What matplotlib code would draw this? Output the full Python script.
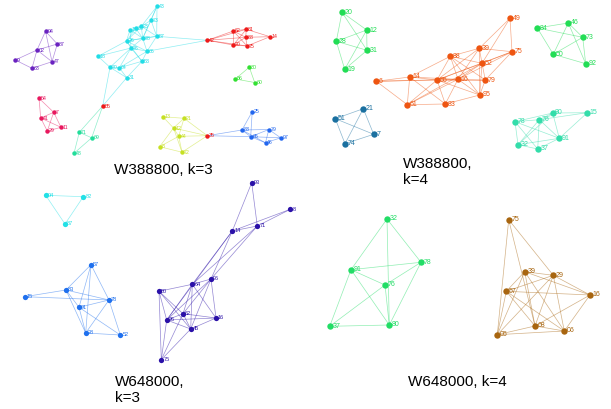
import matplotlib.pyplot as plt

plt.rcParams['font.family'] = ['Liberation Sans', 'DejaVu Sans']

colors = {
    'purple': '#6a22c0', 'cyan': '#22dde6', 'red': '#ee1a1a', 'teal': '#22dd9a',
    'pink': '#e8185e', 'lime': '#33e033', 'yellow': '#c6e022', 'blue': '#2266ee',
    'green': '#22dd55', 'orange': '#ee5511', 'steel': '#1a70a0', 'aqua': '#33ddaa',
    'sky': '#22e0e6', 'azure': '#1f70ee', 'indigo': '#2a10a8', 'mint': '#22dd66',
    'brown': '#a8650f',
}

# W388800, k=3
k3a_nodes = [
    ('94', 45.5, 32.3, 'purple'), ('87', 57.3, 45.0, 'purple'), ('02', 37.0, 51.0, 'purple'),
    ('9', 15.3, 61.0, 'purple'), ('47', 52.0, 62.7, 'purple'), ('63', 32.0, 69.3, 'purple'),
    ('43', 157.0, 7.3, 'cyan'), ('73', 151.0, 21.3, 'cyan'), ('23', 141.3, 27.3, 'cyan'),
    ('38', 135.7, 29.3, 'cyan'), ('19', 130.0, 30.7, 'cyan'), ('57', 156.7, 37.3, 'cyan'),
    ('78', 142.7, 39.3, 'cyan'), ('26', 126.5, 42.0, 'cyan'), ('76', 131.0, 49.0, 'cyan'),
    ('66', 147.0, 52.3, 'cyan'), ('18', 98.0, 57.3, 'cyan'), ('53', 142.0, 62.3, 'cyan'),
    ('70', 110.0, 68.3, 'cyan'), ('64', 119.3, 68.8, 'cyan'), ('31', 126.7, 78.7, 'cyan'),
    ('42', 207.3, 41.3, 'red'), ('62', 233.3, 32.0, 'red'), ('81', 246.3, 30.3, 'red'),
    ('88', 245.7, 38.3, 'red'), ('20', 233.3, 46.0, 'red'), ('75', 247.0, 47.0, 'red'),
    ('14', 270.0, 37.7, 'red'), ('55', 102.7, 107.0, 'red'), ('35', 207.3, 136.7, 'red'),
    ('71', 79.3, 133.3, 'teal'), ('69', 91.7, 138.8, 'teal'), ('48', 74.0, 154.3, 'teal'),
    ('54', 39.0, 99.3, 'pink'), ('7', 53.7, 113.3, 'pink'), ('41', 40.7, 119.0, 'pink'),
    ('11', 61.0, 128.3, 'pink'), ('29', 47.3, 132.0, 'pink'),
    ('30', 249.3, 68.2, 'lime'), ('86', 235.3, 80.0, 'lime'), ('60', 254.7, 83.5, 'lime'),
    ('13', 162.8, 117.7, 'yellow'), ('21', 184.0, 119.3, 'yellow'), ('12', 173.5, 129.0, 'yellow'),
    ('44', 178.7, 137.3, 'yellow'), ('8', 159.6, 147.7, 'yellow'), ('72', 182.0, 153.2, 'yellow'),
    ('25', 252.2, 112.7, 'blue'), ('83', 242.0, 131.0, 'blue'), ('79', 268.8, 130.5, 'blue'),
    ('65', 250.7, 137.7, 'blue'), ('97', 280.7, 138.8, 'blue'), ('46', 265.5, 143.8, 'blue'),
]
k3a_edges = [
    ('94', '87'), ('94', '02'), ('94', '47'), ('87', '02'), ('87', '47'), ('02', '9'),
    ('02', '47'), ('02', '63'), ('9', '63'), ('63', '47'),
    ('43', '73'), ('43', '23'), ('43', '78'), ('43', '57'), ('73', '23'), ('73', '57'),
    ('73', '78'), ('23', '38'), ('23', '57'), ('23', '78'), ('23', '26'), ('38', '19'),
    ('38', '78'), ('38', '26'), ('19', '26'), ('19', '78'), ('19', '76'), ('57', '78'),
    ('57', '66'), ('57', '26'), ('78', '26'), ('78', '76'), ('78', '66'), ('26', '76'),
    ('26', '66'), ('26', '53'), ('76', '66'), ('76', '18'), ('76', '53'), ('76', '70'),
    ('76', '64'), ('66', '53'), ('66', '64'), ('18', '26'), ('18', '70'), ('53', '64'),
    ('53', '31'), ('70', '64'), ('64', '31'), ('70', '31'), ('57', '42'), ('66', '42'),
    ('70', '55'), ('31', '55'),
    ('42', '62'), ('42', '81'), ('42', '88'), ('42', '20'), ('42', '75'), ('62', '81'),
    ('62', '88'), ('62', '20'), ('62', '75'), ('81', '88'), ('81', '14'), ('81', '20'),
    ('88', '20'), ('88', '75'), ('88', '14'), ('20', '75'), ('75', '14'),
    ('71', '55'), ('69', '55'), ('71', '69'), ('71', '48'), ('69', '48'),
    ('54', '7'), ('54', '41'), ('7', '41'), ('7', '11'), ('7', '29'), ('41', '11'),
    ('41', '29'), ('11', '29'),
    ('30', '86'), ('30', '60'), ('86', '60'),
    ('13', '21'), ('13', '12'), ('21', '12'), ('21', '44'), ('21', '35'), ('12', '44'),
    ('12', '8'), ('12', '72'), ('12', '35'), ('44', '8'), ('44', '72'), ('44', '35'),
    ('72', '35'), ('8', '72'),
    ('83', '35'), ('65', '35'), ('25', '83'), ('25', '65'), ('83', '65'), ('83', '79'),
    ('83', '46'), ('65', '79'), ('65', '97'), ('65', '46'), ('79', '97'), ('79', '46'),
    ('97', '46'),
]

# W388800, k=4
k4a_nodes = [
    ('20', 342.0, 13.3, 'green'), ('12', 366.7, 31.0, 'green'), ('28', 336.3, 42.3, 'green'),
    ('31', 367.0, 51.3, 'green'), ('19', 344.7, 70.3, 'green'),
    ('49', 510.0, 19.3, 'orange'), ('39', 479.3, 49.3, 'orange'), ('75', 512.0, 52.7, 'orange'),
    ('88', 450.3, 57.3, 'orange'), ('52', 482.0, 64.3, 'orange'), ('6', 376.3, 82.3, 'orange'),
    ('14', 409.7, 78.0, 'orange'), ('55', 437.0, 81.0, 'orange'), ('16', 458.0, 80.3, 'orange'),
    ('79', 485.3, 81.0, 'orange'), ('95', 479.7, 96.0, 'orange'), ('61', 407.3, 105.7, 'orange'),
    ('83', 445.3, 105.0, 'orange'),
    ('84', 537.3, 29.0, 'green'), ('46', 568.3, 24.0, 'green'), ('73', 582.7, 38.3, 'green'),
    ('50', 553.3, 55.3, 'green'), ('92', 585.7, 64.7, 'green'),
    ('21', 363.3, 109.7, 'steel'), ('51', 335.3, 119.7, 'steel'), ('7', 373.7, 135.3, 'steel'),
    ('74', 345.0, 144.7, 'steel'),
    ('78', 515.0, 122.7, 'aqua'), ('76', 539.3, 120.7, 'aqua'), ('80', 552.7, 114.0, 'aqua'),
    ('15', 587.3, 113.7, 'aqua'), ('91', 559.3, 139.3, 'aqua'), ('32', 518.0, 145.7, 'aqua'),
    ('37', 537.7, 150.0, 'aqua'),
]
k4a_edges = [
    ('20', '12'), ('20', '28'), ('20', '31'), ('12', '28'), ('12', '31'), ('12', '19'),
    ('28', '31'), ('28', '19'), ('31', '19'),
    ('49', '39'), ('49', '75'), ('49', '52'), ('39', '88'), ('39', '52'), ('39', '75'),
    ('39', '16'), ('39', '55'), ('39', '95'), ('75', '52'), ('75', '16'), ('75', '79'),
    ('75', '55'), ('88', '14'), ('88', '55'), ('88', '16'), ('88', '52'), ('88', '79'),
    ('88', '95'), ('52', '55'), ('52', '16'), ('52', '79'), ('52', '95'), ('52', '61'),
    ('6', '14'), ('6', '55'), ('6', '16'), ('6', '61'), ('14', '55'), ('14', '61'),
    ('14', '83'), ('14', '16'), ('55', '16'), ('55', '83'), ('55', '61'), ('55', '95'),
    ('55', '79'), ('16', '79'), ('16', '95'), ('16', '83'), ('16', '61'), ('79', '95'),
    ('61', '83'), ('83', '95'),
    ('84', '46'), ('84', '73'), ('84', '50'), ('46', '73'), ('46', '50'), ('46', '92'),
    ('73', '50'), ('73', '92'), ('50', '92'),
    ('21', '51'), ('21', '7'), ('21', '74'), ('51', '7'), ('51', '74'), ('74', '7'),
    ('78', '76'), ('78', '80'), ('78', '91'), ('78', '32'), ('78', '37'), ('76', '80'),
    ('76', '91'), ('76', '32'), ('76', '37'), ('80', '15'), ('80', '91'), ('80', '32'),
    ('15', '91'), ('15', '76'), ('91', '37'), ('91', '32'), ('32', '37'),
]

# W648000, k=3
k3b_nodes = [
    ('04', 45.7, 196.3, 'sky'), ('82', 83.3, 197.7, 'sky'), ('87', 65.0, 225.0, 'sky'),
    ('57', 91.0, 265.7, 'azure'), ('83', 66.0, 291.0, 'azure'), ('15', 24.7, 297.7, 'azure'),
    ('78', 109.0, 301.0, 'azure'), ('91', 79.0, 308.3, 'azure'), ('28', 85.7, 334.0, 'azure'),
    ('52', 120.3, 336.0, 'azure'),
    ('93', 251.7, 183.7, 'indigo'), ('8', 290.3, 210.3, 'indigo'), ('14', 232.3, 232.0, 'indigo'),
    ('71', 257.3, 227.0, 'indigo'), ('96', 211.0, 280.0, 'indigo'), ('64', 192.3, 285.3, 'indigo'),
    ('50', 159.0, 292.3, 'indigo'), ('62', 183.0, 314.7, 'indigo'), ('16', 216.0, 319.0, 'indigo'),
    ('26', 166.7, 321.0, 'indigo'), ('45', 190.7, 330.0, 'indigo'), ('75', 161.3, 360.7, 'indigo'),
]
k3b_edges = [
    ('04', '82'), ('04', '87'), ('82', '87'),
    ('57', '83'), ('57', '91'), ('57', '78'), ('57', '28'), ('83', '15'), ('83', '78'),
    ('83', '91'), ('83', '28'), ('15', '78'), ('91', '78'), ('91', '28'), ('91', '52'),
    ('78', '28'), ('78', '52'), ('28', '52'),
    ('93', '14'), ('93', '71'), ('8', '14'), ('8', '71'), ('14', '71'), ('14', '96'),
    ('14', '64'), ('14', '26'), ('71', '96'), ('71', '64'), ('96', '64'), ('96', '16'),
    ('96', '62'), ('96', '26'), ('96', '45'), ('64', '50'), ('64', '62'), ('64', '26'),
    ('64', '45'), ('64', '16'), ('50', '62'), ('50', '26'), ('50', '45'), ('50', '75'),
    ('62', '16'), ('62', '26'), ('62', '45'), ('26', '16'), ('26', '45'), ('26', '75'),
    ('45', '16'), ('45', '75'), ('62', '75'),
]

# W648000, k=4
k4b_nodes = [
    ('32', 387.0, 220.0, 'mint'), ('78', 421.0, 263.3, 'mint'), ('91', 351.0, 270.7, 'mint'),
    ('76', 385.0, 286.0, 'mint'), ('37', 329.7, 327.3, 'mint'), ('80', 389.3, 326.0, 'mint'),
    ('75', 508.7, 220.7, 'brown'), ('39', 524.7, 272.7, 'brown'), ('29', 553.3, 276.3, 'brown'),
    ('57', 506.3, 292.3, 'brown'), ('16', 590.0, 296.0, 'brown'), ('68', 535.0, 327.0, 'brown'),
    ('06', 564.3, 332.0, 'brown'), ('05', 497.3, 335.7, 'brown'),
]
k4b_edges = [
    ('32', '78'), ('32', '91'), ('32', '80'), ('91', '78'), ('91', '76'), ('91', '37'),
    ('91', '80'), ('78', '76'), ('78', '80'), ('76', '37'), ('76', '80'), ('37', '80'),
    ('75', '05'), ('75', '68'), ('75', '29'), ('39', '29'), ('39', '57'), ('39', '16'),
    ('39', '68'), ('39', '06'), ('39', '05'), ('29', '57'), ('29', '16'), ('29', '68'),
    ('29', '06'), ('29', '05'), ('57', '16'), ('57', '68'), ('57', '06'), ('57', '05'),
    ('16', '68'), ('16', '06'), ('68', '06'), ('68', '05'), ('05', '06'),
]

# (nodes, edges, marker size, label size)
panels = [
    (k3a_nodes, k3a_edges, 3.2, 3.8),
    (k4a_nodes, k4a_edges, 4.6, 5.0),
    (k3b_nodes, k3b_edges, 3.8, 4.0),
    (k4b_nodes, k4b_edges, 4.6, 5.0),
]

fig = plt.figure(figsize=(6.11, 4.10), dpi=100)
ax = fig.add_axes([0, 0, 1, 1])
ax.set_xlim(0, 611)
ax.set_ylim(410, 0)
ax.axis('off')

for nodes, edges, size, fsize in panels:
    pos = {lab: (x, y) for lab, x, y, g in nodes}
    grp = {lab: g for lab, x, y, g in nodes}
    # edge takes the colour of its first node
    for a, b in edges:
        ax.plot([pos[a][0], pos[b][0]], [pos[a][1], pos[b][1]],
                color=colors[grp[a]], lw=0.5, alpha=0.5, zorder=1)
    for lab, x, y, g in nodes:
        ax.plot(x, y, 'o', ms=size, color=colors[g], mec='none', zorder=2)
        ax.text(x + size * 0.55, y - 1, lab, fontsize=fsize, color=colors[g],
                ha='left', va='center', zorder=3)

ax.text(163, 170, 'W388800, k=3', fontsize=11, ha='center', va='center')
ax.text(403, 172, 'W388800,\nk=4', fontsize=11, ha='left', va='center', linespacing=1.15)
ax.text(115, 390, 'W648000,\nk=3', fontsize=11, ha='left', va='center', linespacing=1.15)
ax.text(457, 382, 'W648000, k=4', fontsize=11, ha='center', va='center')

fig.savefig('out.png', dpi=100)
